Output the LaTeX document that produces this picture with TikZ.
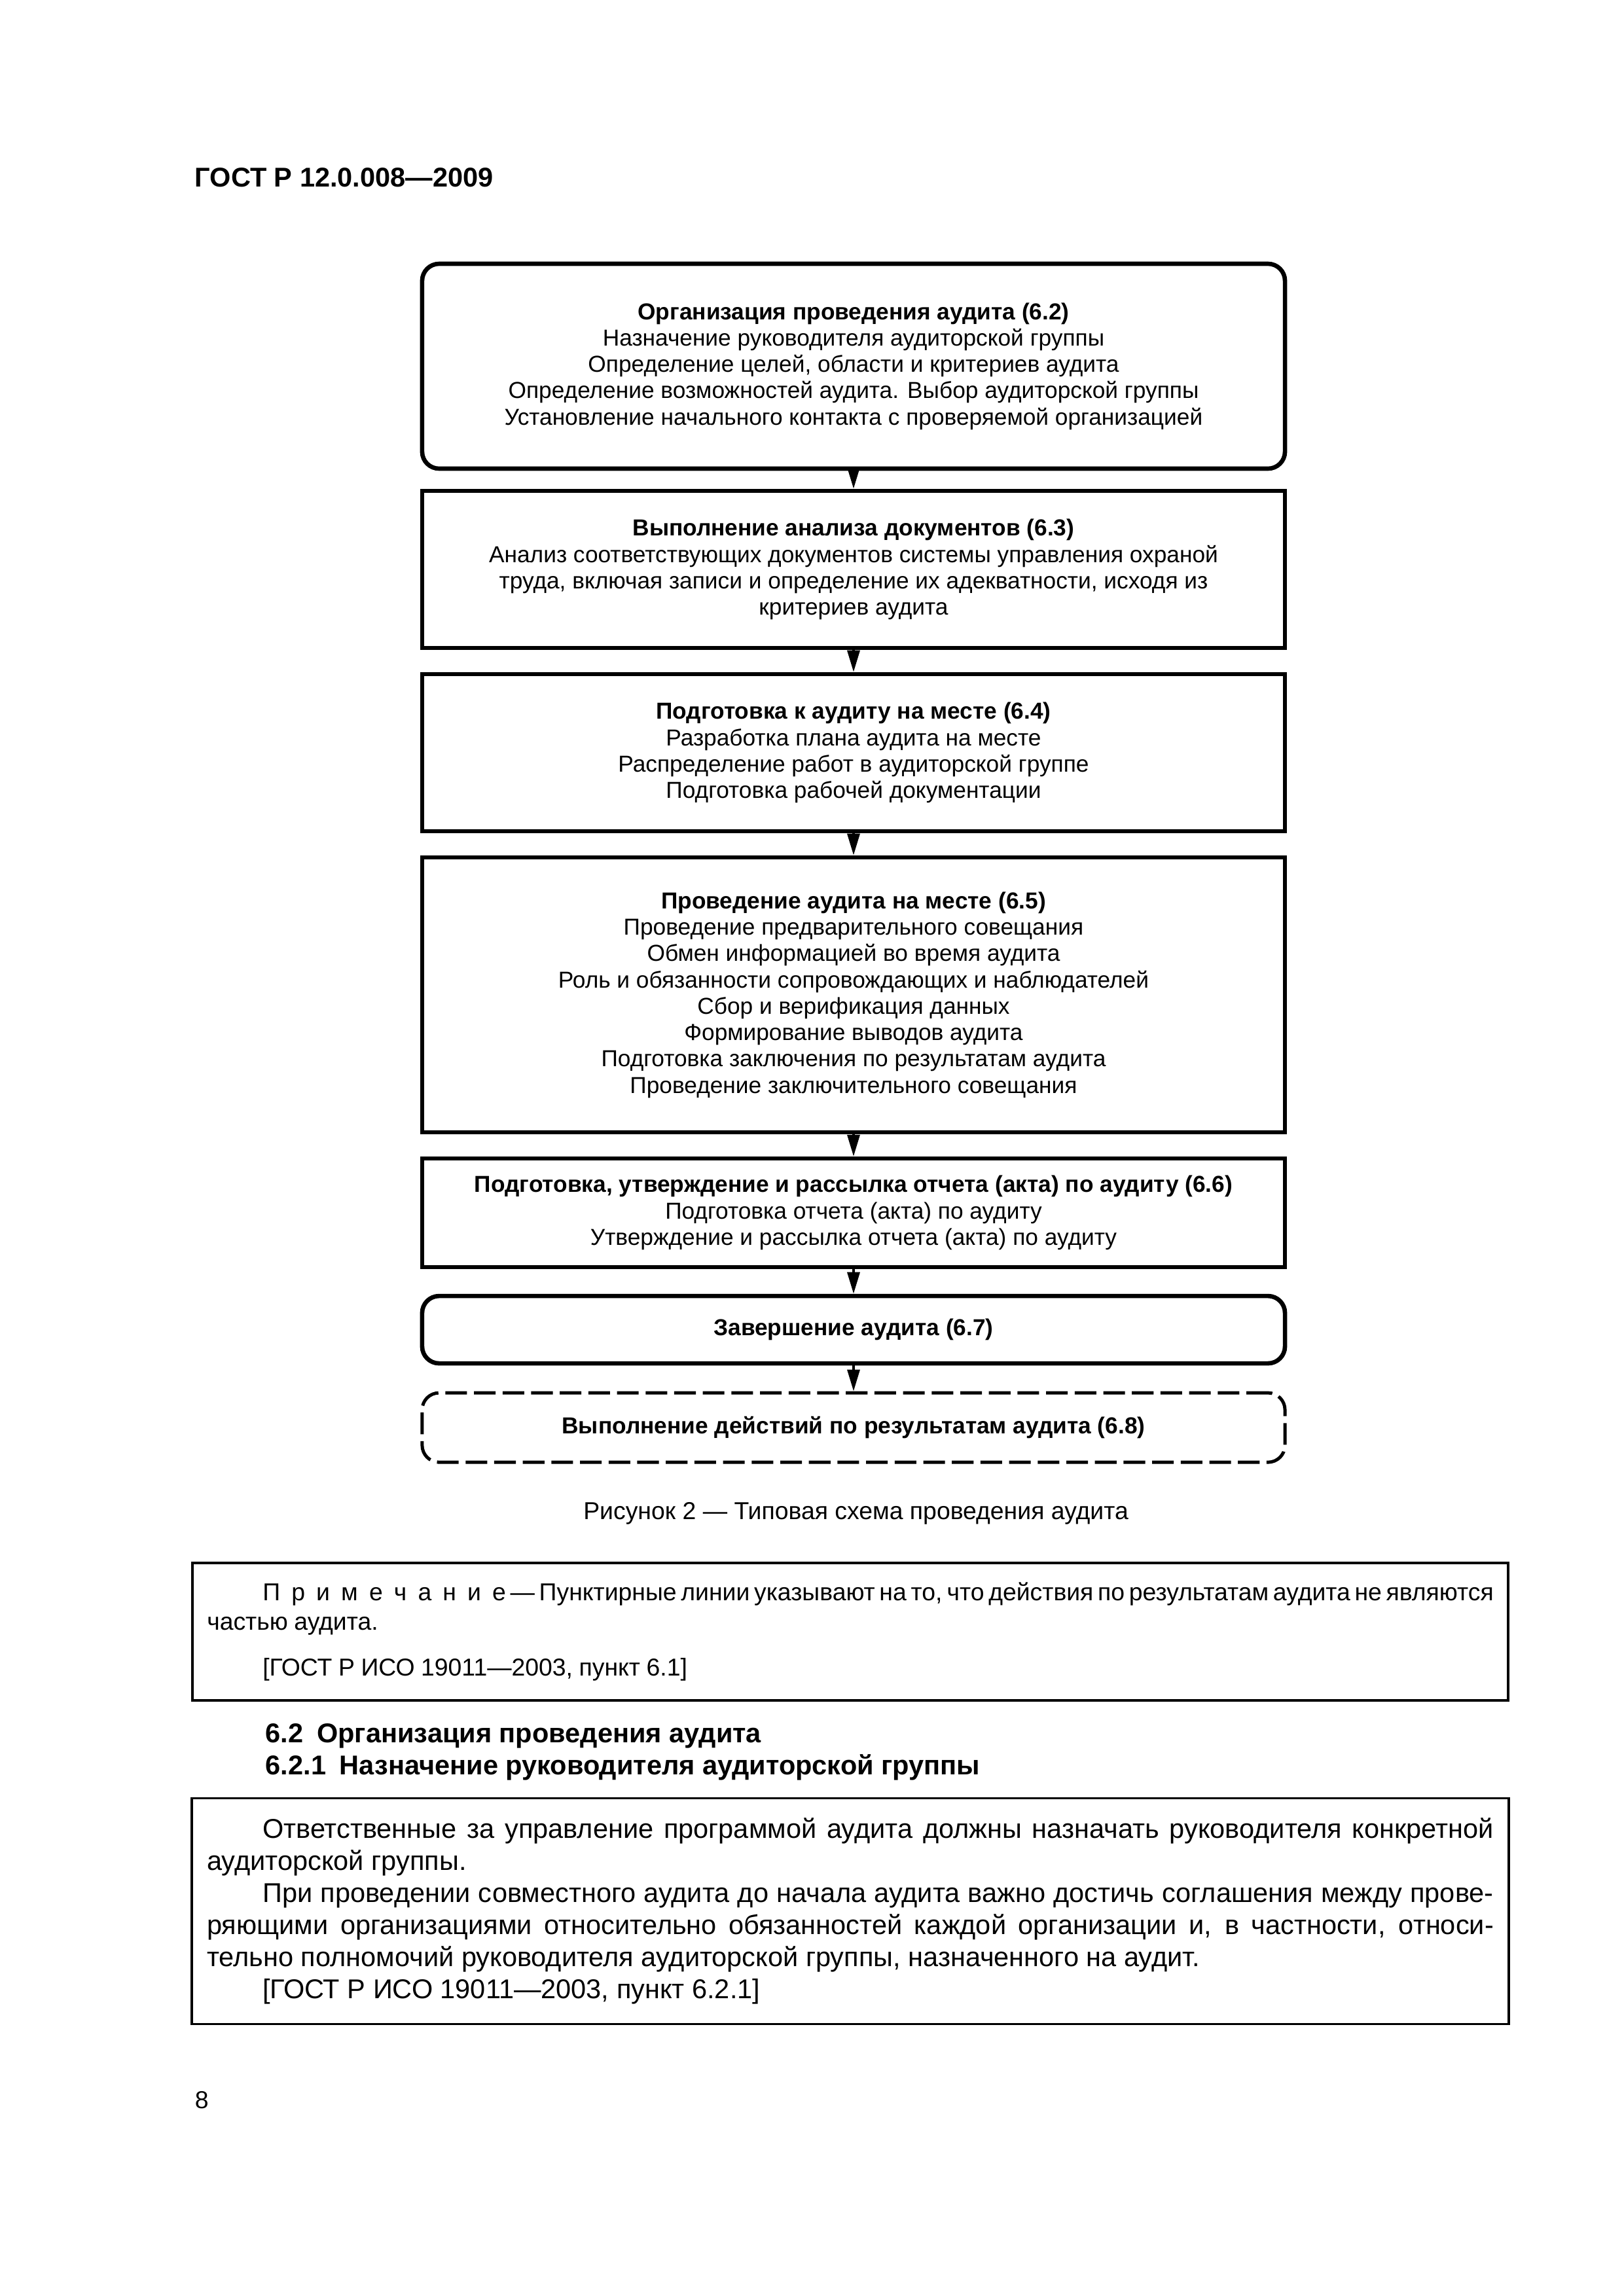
\documentclass[tikz,border=0pt]{standalone}
\usepackage{fontspec}
\setmainfont{Liberation Sans}
\usetikzlibrary{arrows.meta}
\newcommand{\ind}{\hspace*{0.72cm}}
\newcommand{\ls}{\hspace{1.45mm}}

\begin{document}
\begin{tikzpicture}[
  font=\fontsize{8.5}{9.7}\selectfont,
  box/.style={draw,line width=1.6pt,align=center,inner sep=0pt,
              minimum width=11.16cm},
  sq/.style={box},
  rnd/.style={box,rounded corners=2.2mm},
  dsh/.style={box,rounded corners=2.2mm,line width=1.2pt,
              dash pattern=on 2.8mm off 0.9mm},
  ar/.style={-{Triangle[length=2.8mm,width=1.6mm]},line width=0.9pt},
  pg/.style={inner sep=0pt,anchor=base west},
  frame/.style={draw,line width=0.8pt,inner sep=0pt,align=justify,
                text width=16.64cm}
]
\useasboundingbox (0,0) rectangle (21,-29.7);

\node[pg,font=\fontsize{10}{12}\selectfont\bfseries] (hdr) at (2.515,-2.413)
  {ГОСТ Р 12.0.008—2009};

% flow chart
\node[rnd,minimum height=2.65cm] (org) at (11.04,-4.737)
  {\textbf{Организация проведения аудита (6.2)}\\
   Назначение руководителя аудиторской группы\\
   Определение целей, области и критериев аудита\\
   Определение возможностей аудита. Выбор аудиторской группы\\
   Установление начального контакта с проверяемой организацией};
\node[sq,minimum height=2.032cm] (docs) at (11.04,-7.366)
  {\textbf{Выполнение анализа документов (6.3)}\\
   Анализ соответствующих документов системы управления охраной\\
   труда, включая записи и определение их адекватности, исходя из\\
   критериев аудита};
\node[sq,minimum height=2.032cm] (prep) at (11.04,-9.737)
  {\textbf{Подготовка к аудиту на месте (6.4)}\\
   Разработка плана аудита на месте\\
   Распределение работ в аудиторской группе\\
   Подготовка рабочей документации};
\node[sq,minimum height=3.556cm] (site) at (11.04,-12.869)
  {\textbf{Проведение аудита на месте (6.5)}\\
   Проведение предварительного совещания\\
   Обмен информацией во время аудита\\
   Роль и обязанности сопровождающих и наблюдателей\\
   Сбор и верификация данных\\
   Формирование выводов аудита\\
   Подготовка заключения по результатам аудита\\
   Проведение заключительного совещания};
\node[sq,minimum height=1.405cm] (rep) at (11.04,-15.689)
  {\textbf{Подготовка, утверждение и рассылка отчета (акта) по аудиту (6.6)}\\
   Подготовка отчета (акта) по аудиту\\
   Утверждение и рассылка отчета (акта) по аудиту};
\node[rnd,minimum height=0.872cm] (fin) at (11.04,-17.2)
  {\textbf{Завершение аудита (6.7)}};
\node[dsh,minimum height=0.898cm] (post) at (11.04,-18.466)
  {\textbf{Выполнение действий по результатам аудита (6.8)}};

\draw[ar] (org)  -- (docs);
\draw[ar] (docs) -- (prep);
\draw[ar] (prep) -- (site);
\draw[ar] (site) -- (rep);
\draw[ar] (rep)  -- (fin);
\draw[ar] (fin)  -- (post);

\node[inner sep=0pt,font=\fontsize{9}{11}\selectfont] (cap) at (11.07,-19.58)
  {Рисунок 2 — Типовая схема проведения аудита};

% text of the page
\node[frame,minimum width=17.018cm,minimum height=1.777cm,
      font=\fontsize{9}{10.8}\selectfont] (note) at (10.998,-21.107)
  {\spaceskip=2.3pt plus 1.5pt minus 0.8pt
   \ind\mbox{П\ls р\ls и\ls м\ls е\ls ч\ls а\ls н\ls и\ls е} — Пунктирные линии указывают на то, что действия по результатам аудита не являются\linebreak
   частью аудита.\par\vspace{2.1mm}
   \ind[ГОСТ Р ИСО 19011—2003, пункт 6.1]};

\node[pg,font=\fontsize{10}{12}\selectfont\bfseries] (sec) at (3.429,-22.54)
  {6.2\enspace Организация проведения аудита};
\node[pg,font=\fontsize{10}{12}\selectfont\bfseries] (subsec) at (3.429,-22.96)
  {6.2.1\enspace Назначение руководителя аудиторской группы};

\node[frame,minimum width=17.035cm,minimum height=2.921cm,
      font=\fontsize{10}{11.8}\selectfont] (quote) at (10.998,-24.719)
  {\ind Ответственные за управление программой аудита должны назначать руководителя конкретной\linebreak
   аудиторской группы.\par
   \ind При проведении совместного аудита до начала аудита важно достичь соглашения между прове-\linebreak
   ряющими организациями относительно обязанностей каждой организации и, в частности, относи-\linebreak
   тельно полномочий руководителя аудиторской группы, назначенного на аудит.\par
   \ind[ГОСТ Р ИСО 19011—2003, пункт 6.2.1]};

\node[pg,font=\fontsize{9}{11}\selectfont] (num) at (2.515,-27.27) {8};
\end{tikzpicture}
\end{document}
